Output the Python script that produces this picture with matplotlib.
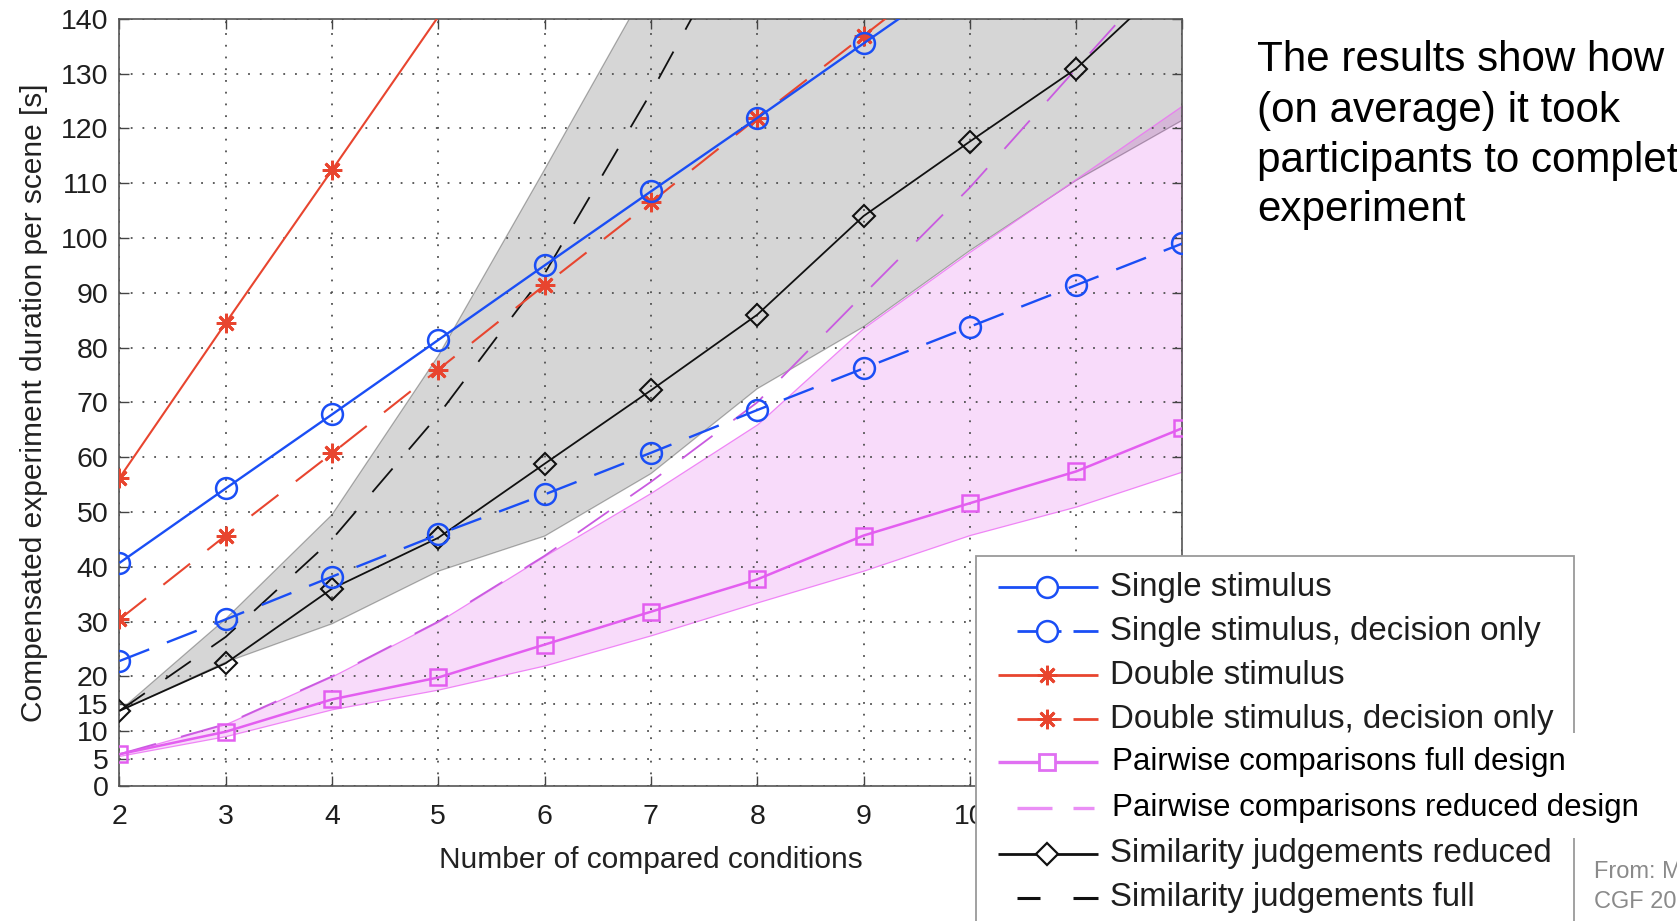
import matplotlib
matplotlib.use("Agg")
import matplotlib.pyplot as plt
from matplotlib.patches import Rectangle

plt.rcParams['font.family'] = ['Liberation Sans', 'DejaVu Sans']

# number of compared conditions
conditions = [2, 3, 4, 5, 6, 7, 8, 9, 10, 11, 12]

# mean compensated duration per scene [s]; a series stops one point after it leaves the plot
single_stimulus = [40.7, 54.3, 67.8, 81.4, 95.0, 108.5, 121.9, 135.5, 149.0]
single_decision = [22.8, 30.4, 38.2, 45.9, 53.2, 60.8, 68.6, 76.2, 83.8, 91.4, 99.0]
double_stimulus = [56.2, 84.5, 112.4, 140.4, 168.3]
double_decision = [30.4, 45.7, 60.7, 76.0, 91.4, 106.5, 121.9, 136.9, 152.0]
pairwise_full = [5.8, 9.9, 15.8, 19.8, 25.8, 31.8, 37.7, 45.7, 51.6, 57.4, 65.3]
pairwise_reduced = [5.8, 11.3, 20.0, 30.0, 42.0, 55.5, 70.0, 89.7, 109.2, 130.9, 152.5]
similarity_reduced = [13.7, 22.4, 36.0, 45.3, 58.8, 72.2, 86.0, 104.0, 117.6, 130.9, 149.0]
similarity_full = [13.7, 27.2, 45.0, 67.7, 93.5, 126.5, 162.0]

# shaded ranges
similarity_lo = [13.7, 22.6, 29.6, 39.2, 45.6, 57.0, 72.5, 83.8, 97.7, 110.5, 121.5]
similarity_hi = [13.7, 30.5, 49.5, 78.5, 112.5, 147.0, 185.0, 225.0, 270.0, 320.0, 375.0]
pairwise_lo = [5.5, 9.1, 14.0, 17.6, 22.0, 27.5, 33.5, 39.3, 45.8, 51.0, 57.4]
pairwise_hi = [5.8, 11.3, 20.0, 30.0, 42.0, 53.5, 66.0, 83.6, 97.5, 110.8, 124.2]

y_ticks = [0, 5, 10, 15, 20, 30, 40, 50, 60, 70, 80, 90, 100, 110, 120, 130, 140]

series_labels = [
    'Single stimulus',
    'Single stimulus, decision only',
    'Double stimulus',
    'Double stimulus, decision only',
    'Pairwise comparisons full design',
    'Pairwise comparisons reduced design',
    'Similarity judgements reduced',
    'Similarity judgements full',
]
note_lines = ['The results show how', '(on average) it took',
              'participants to complete the', 'experiment']
source_lines = ['From: Mantiuk et al.', 'CGF 2012']

W, H, DPI = 1677, 921, 100
Y_MAX = 140

BLUE = '#1a4ef5'
RED = '#e8452f'
MAGENTA = '#e35ef0'
VIOLET = '#c95be0'
BLACK = '#111111'
STAR = (8, 2, 0)


def px_dashes(on, off, lw):
    # dash pattern given in pixels, matplotlib scales it by linewidth
    return (on * 72 / DPI / lw, off * 72 / DPI / lw)


def draw(ax, vals, color, lw, dashes=None, marker='None', ms=0, mew=1.6, z=3):
    xs = conditions[:len(vals)]
    shown = [i for i, v in enumerate(vals) if v <= Y_MAX]
    line, = ax.plot(xs, vals, color=color, lw=lw, marker=marker, ms=ms, mew=mew,
                    mfc='none', mec=color, markevery=shown, zorder=z,
                    solid_capstyle='butt', dash_capstyle='butt')
    if dashes:
        line.set_dashes(dashes)
    return line


fig = plt.figure(figsize=(W / DPI, H / DPI), dpi=DPI)
ax = fig.add_axes([0.0712, 0.1466, 0.6339, 0.8330])

ax.fill_between(conditions, similarity_lo, similarity_hi, facecolor=(0, 0, 0, 0.16),
                edgecolor=(0.3, 0.3, 0.3, 0.45), lw=0.9, zorder=1)
ax.fill_between(conditions, pairwise_lo, pairwise_hi, facecolor=(0.82, 0.0, 0.88, 0.14),
                edgecolor=(0.93, 0.45, 0.96, 0.85), lw=0.9, zorder=1.1)

draw(ax, pairwise_reduced, VIOLET, 1.3, px_dashes(38, 26, 1.3), z=3)
draw(ax, pairwise_full, MAGENTA, 1.8, marker='s', ms=11.5, mew=1.8, z=3.1)
draw(ax, similarity_full, BLACK, 1.3, px_dashes(31, 25, 1.3), z=3.2)
draw(ax, similarity_reduced, BLACK, 1.3, marker='D', ms=11, mew=1.5, z=3.3)
draw(ax, double_decision, RED, 1.5, px_dashes(34, 22, 1.5), marker=STAR, ms=14, mew=2, z=3.4)
draw(ax, double_stimulus, RED, 1.5, marker=STAR, ms=14, mew=2, z=3.5)
draw(ax, single_decision, BLUE, 1.7, px_dashes(32, 19, 1.7), marker='o', ms=15, mew=1.8, z=3.6)
draw(ax, single_stimulus, BLUE, 1.7, marker='o', ms=15, mew=1.8, z=3.7)

ax.set_xlim(conditions[0], conditions[-1])
ax.set_ylim(0, Y_MAX)
ax.set_xticks(conditions)
ax.set_yticks(y_ticks)
ax.set_axisbelow('line')
ax.grid(True, ls=(0, (1, 5.5)), color='#505050', lw=1.3)
ax.tick_params(direction='in', length=7, width=1, color='#444444', top=True, right=True,
               labelsize=20.5, labelcolor='#1e1e1e')
ax.tick_params(axis='x', pad=13)
ax.tick_params(axis='y', pad=8)
for sp in ax.spines.values():
    sp.set_color('#555555')
    sp.set_linewidth(1.2)

ax.set_xlabel('Number of compared conditions', fontsize=21.5, color='#222222')
ax.set_ylabel('Compensated experiment duration per scene [s]', fontsize=21.5, color='#222222')
ax.xaxis.set_label_coords(0.5, -0.0788)
ax.yaxis.set_label_coords(-0.0668, 0.5)

# overlay in pixel units for the legend box and the slide text
ov = fig.add_axes([0, 0, 1, 1], zorder=10)
ov.set_xlim(0, W)
ov.set_ylim(H, 0)
ov.axis('off')

ov.add_patch(Rectangle((976.5, 556), 598, 420, fc='white', ec='#9a9a9a', lw=1.3, zorder=1))
ov.add_patch(Rectangle((985, 733), 720, 105, fc='white', ec='none', zorder=2))

row_y = [587, 631, 675, 719, 762, 808, 853.5, 897.5]
row_style = [
    # color, lw, dash segments, marker, ms, mew
    (BLUE, 2.0, None, 'o', 15, 1.8),
    (BLUE, 2.0, [(1017, 1061), (1073, 1098)], 'o', 15, 1.8),
    (RED, 2.0, None, STAR, 14, 2),
    (RED, 2.0, [(1017, 1061), (1073, 1098)], STAR, 14, 2),
    ('#e070f2', 2.4, None, 's', 11.5, 2),
    ('#ea8ff5', 2.4, [(1017, 1052), (1073, 1094)], 'None', 0, 1),
    (BLACK, 2.0, None, 'D', 11, 1.6),
    (BLACK, 2.2, [(1017, 1040), (1073, 1098)], 'None', 0, 1),
]
for i, (label, y, st) in enumerate(zip(series_labels, row_y, row_style)):
    color, lw, segs, marker, ms, mew = st
    if segs is None:
        segs = [(998, 1098)]
    for a, b in segs:
        ov.plot([a, b], [y, y], color=color, lw=lw, solid_capstyle='butt', zorder=3)
    if marker != 'None':
        ov.plot([1047], [y], marker=marker, ms=ms, mew=mew, mfc='white', mec=color,
                ls='none', zorder=3.5)
    if i in (4, 5):
        ov.text(1112, y, label, fontsize=22.5, color='black', va='center', ha='left', zorder=4)
    else:
        ov.text(1110, y, label, fontsize=23.8, color='#1e1e1e', va='center', ha='left', zorder=4)

for line, y in zip(note_lines, [70.6, 121.9, 172.2, 221.4]):
    ov.text(1257, y, line, fontsize=30.3, color='black', va='baseline', ha='left', clip_on=False)

for line, y in zip(source_lines, [871.6, 901.6]):
    ov.text(1594, y, line, fontsize=17, color='#8a8a8a', va='center', ha='left', clip_on=False)

fig.savefig('out.png', dpi=DPI)
